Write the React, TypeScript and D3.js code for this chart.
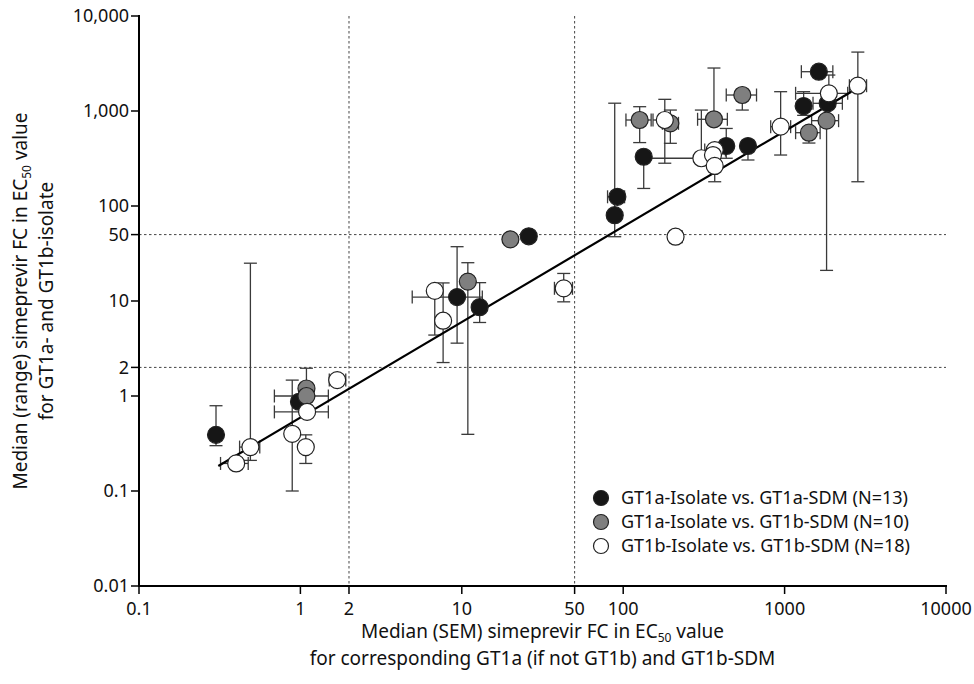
import React from "react";
import * as d3 from "d3";

type Range = [number, number] | null;

// GT1a-Isolate vs. GT1a-SDM
const gt1aGt1aX = [0.30, 0.98, 9.35, 12.9, 26, 88.6, 92, 134, 435, 593, 1312, 1630, 1850];
const gt1aGt1aY = [0.39, 0.87, 11.0, 8.6, 48, 80, 125, 330, 428, 428, 1129, 2592, 1205];
const gt1aGt1aXErr: Range[] = [null, null, [4.93, 13.4], null, null, null, [80, 102], null, null, null, null, [1270, 1990], [1500, 2280]];
const gt1aGt1aYErr: Range[] = [[0.30, 0.79], null, [3.6, 37.3], [5.94, 15.6], null, [47.5, 1208], null, [153, 330], [318, 655], [305, 428], [900, 1597], [2300, 2900], null];

// GT1a-Isolate vs. GT1b-SDM
const gt1aGt1bX = [1.09, 1.09, 10.9, 20, 126.5, 196, 365, 547, 1415, 1820];
const gt1aGt1bY = [1.2, 1.0, 16, 44.6, 804, 742, 818, 1473, 591, 791];
const gt1aGt1bXErr: Range[] = [null, [0.69, 1.49], null, null, [104, 149], [175, 220], [289, 442], [435, 670], [1170, 1660], [1470, 2160]];
const gt1aGt1bYErr: Range[] = [[0.8, 1.96], null, [0.395, 25.3], null, [465, 1110], [457, 1023], [818, 2834], [1023, 1473], [460, 591], [21, 791]];

// GT1b-Isolate vs. GT1b-SDM
const gt1bGt1bX = [0.49, 0.40, 1.1, 0.89, 1.08, 1.69, 6.8, 7.66, 42.8, 211, 181, 305, 369, 360, 369, 945, 1880, 2843];
const gt1bGt1bY = [0.29, 0.195, 0.68, 0.40, 0.29, 1.47, 12.8, 6.2, 13.6, 47.5, 804, 318, 388, 344, 264, 684, 1535, 1846];
const gt1bGt1bXErr: Range[] = [[0.42, 0.56], [0.32, 0.475], [0.69, 1.49], null, null, [1.51, 1.91], null, null, [37.5, 48.5], [194, 232], [153, 181], [134, 330], [320, 430], null, null, [820, 1090], [1170, 2460], [2520, 3220]];
const gt1bGt1bYErr: Range[] = [[0.21, 25], null, null, [0.1, 1.47], [0.195, 0.39], null, [4.38, 12.8], [2.25, 15.5], [9.8, 19.5], null, [282, 1327], [282, 1023], null, null, [180, 264], [344, 1597], [1535, 2390], [180, 4170]];

const legendLabels = [
  "GT1a-Isolate vs. GT1a-SDM (N=13)",
  "GT1a-Isolate vs. GT1b-SDM (N=10)",
  "GT1b-Isolate vs. GT1b-SDM (N=18)",
];
const seriesFill = ["#161616", "#7f7f7f", "#ffffff"];

const xTicks = [0.1, 1, 2, 10, 50, 100, 1000, 10000];
const xTickLabels = ["0.1", "1", "2", "10", "50", "100", "1000", "10000"];
const yTicks = [0.01, 0.1, 1, 2, 10, 50, 100, 1000, 10000];
const yTickLabels = ["0.01", "0.1", "1", "2", "10", "50", "100", "1,000", "10,000"];
const refLines = [2, 50];
const fitLine: [number, number][] = [[0.31, 0.183], [2590, 1597]];

const W = 974, H = 684;
const left = 139, right = 946, top = 16, bottom = 586;
const FONT = "'Noto Sans', sans-serif";

export default function App() {
  const x = d3.scaleLog().domain([0.1, 10000]).range([left, right]);
  const y = d3.scaleLog().domain([0.01, 10000]).range([bottom, top]);
  const series = [
    { xs: gt1aGt1aX, ys: gt1aGt1aY, xe: gt1aGt1aXErr, ye: gt1aGt1aYErr },
    { xs: gt1aGt1bX, ys: gt1aGt1bY, xe: gt1aGt1bXErr, ye: gt1aGt1bYErr },
    { xs: gt1bGt1bX, ys: gt1bGt1bY, xe: gt1bGt1bXErr, ye: gt1bGt1bYErr },
  ];
  const cap = 6.5;
  const r = 8.5;
  const line = d3.line<[number, number]>().x((d) => x(d[0])).y((d) => y(d[1]));
  const errColor = "#3a3a3a";

  return (
    <svg width={W} height={H} style={{ position: "absolute", left: 0, top: 0, background: "#fff" }} fontFamily={FONT}>
      {refLines.map((v) => (
        <line key={"v" + v} x1={x(v)} x2={x(v)} y1={top} y2={bottom} stroke="#444" strokeWidth={1} strokeDasharray="2.5,2.5" />
      ))}
      {refLines.map((v) => (
        <line key={"h" + v} x1={left} x2={right} y1={y(v)} y2={y(v)} stroke="#444" strokeWidth={1} strokeDasharray="2.5,2.5" />
      ))}
      {series.map((s, si) => (
        <g key={"e" + si} stroke={errColor} strokeWidth={1.3} fill="none">
          {s.xs.map((xv, i) => {
            const cx = x(xv), cy = y(s.ys[i]);
            const xe = s.xe[i], ye = s.ye[i];
            return (
              <g key={i}>
                {ye && (
                  <>
                    <line x1={cx} x2={cx} y1={y(ye[0])} y2={y(ye[1])} />
                    <line x1={cx - cap} x2={cx + cap} y1={y(ye[0])} y2={y(ye[0])} />
                    <line x1={cx - cap} x2={cx + cap} y1={y(ye[1])} y2={y(ye[1])} />
                  </>
                )}
                {xe && (
                  <>
                    <line x1={x(xe[0])} x2={x(xe[1])} y1={cy} y2={cy} />
                    <line x1={x(xe[0])} x2={x(xe[0])} y1={cy - cap} y2={cy + cap} />
                    <line x1={x(xe[1])} x2={x(xe[1])} y1={cy - cap} y2={cy + cap} />
                  </>
                )}
              </g>
            );
          })}
        </g>
      ))}
      <path d={line(fitLine) || ""} stroke="#000" strokeWidth={2.2} fill="none" />
      {series.map((s, si) => (
        <g key={"p" + si}>
          {s.xs.map((xv, i) => (
            <circle key={i} cx={x(xv)} cy={y(s.ys[i])} r={r} fill={seriesFill[si]} stroke="#222" strokeWidth={1.2} />
          ))}
        </g>
      ))}
      <line x1={left} x2={left} y1={top - 1} y2={bottom + 1} stroke="#000" strokeWidth={2} />
      <line x1={left - 1} x2={right + 1} y1={bottom} y2={bottom} stroke="#000" strokeWidth={2} />
      {yTicks.map((t, i) => (
        <g key={"yt" + t}>
          <line x1={left - 8} x2={left} y1={y(t)} y2={y(t)} stroke="#000" strokeWidth={1.5} />
          <text x={left - 10} y={y(t)} dy="0.36em" textAnchor="end" fontSize={18} fill="#111">{yTickLabels[i]}</text>
        </g>
      ))}
      {xTicks.map((t, i) => (
        <g key={"xt" + t}>
          <line x1={x(t)} x2={x(t)} y1={bottom} y2={bottom + 8} stroke="#000" strokeWidth={1.5} />
          <text x={x(t)} y={bottom + 29} textAnchor="middle" fontSize={18} fill="#111">{xTickLabels[i]}</text>
        </g>
      ))}
      <g transform={`translate(27, ${(top + bottom) / 2}) rotate(-90)`}>
        <text x={0} y={0} textAnchor="middle" fontSize={19} fill="#111">
          Median (range) simeprevir FC in EC<tspan fontSize={12} dy="4">50</tspan><tspan dy="-4"> value</tspan>
        </text>
        <text x={0} y={26} textAnchor="middle" fontSize={19} fill="#111">for GT1a- and GT1b-isolate</text>
      </g>
      <text x={(left + right) / 2} y={638} textAnchor="middle" fontSize={19} fill="#111">
        Median (SEM) simeprevir FC in EC<tspan fontSize={12} dy="4">50</tspan><tspan dy="-4"> value</tspan>
      </text>
      <text x={(left + right) / 2} y={665} textAnchor="middle" fontSize={19} fill="#111">for corresponding GT1a (if not GT1b) and GT1b-SDM</text>
      {legendLabels.map((lab, i) => (
        <g key={"lg" + i} transform={`translate(601, ${498 + i * 24})`}>
          <circle cx={0} cy={0} r={7.5} fill={seriesFill[i]} stroke="#222" strokeWidth={1.2} />
          <text x={20} y={0} dy="0.36em" fontSize={18} fill="#111">{lab}</text>
        </g>
      ))}
    </svg>
  );
}
